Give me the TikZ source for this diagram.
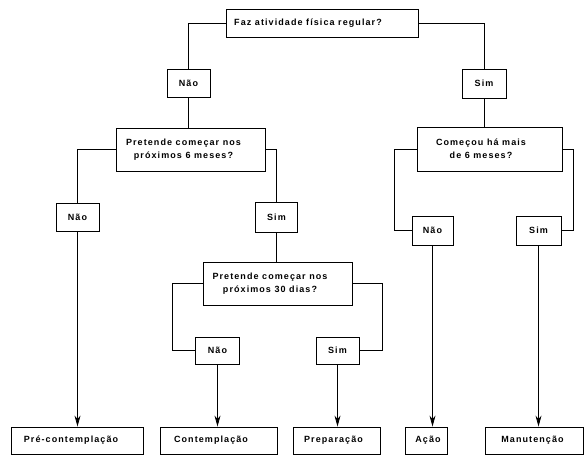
\documentclass[tikz,border=0pt]{standalone}
\usepackage{fontspec}
\setmainfont{Liberation Sans}[LetterSpace=12]
\usetikzlibrary{arrows.meta}
\newcommand{\padR}[1]{\hspace*{#1}}
\begin{document}
\begin{tikzpicture}[x=1pt,y=-1pt,
  box/.style={draw=black, line width=0.9pt, fill=white, inner sep=0pt, align=center,
    font=\fontsize{9}{13}\selectfont\bfseries},
  conn/.style={draw=black, line width=0.8pt},
  arr/.style={conn, -{Stealth[length=11pt,width=6pt]}}]
\useasboundingbox (0,0) rectangle (585,456);
% nodes
\node[box, minimum width=192pt, minimum height=28pt] (top) at (322,23) {Faz atividade física regular?\padR{28pt}};
\node[box, minimum width=43pt, minimum height=28pt] (naoA) at (188.5,83) {Não};
\node[box, minimum width=44pt, minimum height=29pt] (simA) at (484,83.5) {Sim};
\node[box, minimum width=149pt, minimum height=43pt] (p6) at (190.5,149.5) {Pretende começar nos\padR{14pt}\\próximos 6 meses?\padR{14pt}};
\node[box, minimum width=145pt, minimum height=44pt] (c6) at (489.5,149) {Começou há mais\padR{17pt}\\de 6 meses?\padR{17pt}};
\node[box, minimum width=43pt, minimum height=28pt] (naoB) at (77.5,217) {Não};
\node[box, minimum width=42pt, minimum height=30pt] (simB) at (276.5,217) {Sim};
\node[box, minimum width=41pt, minimum height=29pt] (naoC) at (432.5,230.5) {Não};
\node[box, minimum width=45pt, minimum height=29pt] (simC) at (538.5,230.5) {Sim};
\node[box, minimum width=149pt, minimum height=43pt] (p30) at (277.5,283.5) {Pretende começar nos\padR{15pt}\\próximos 30 dias?\padR{15pt}};
\node[box, minimum width=44pt, minimum height=27pt] (naoD) at (217.5,350.5) {Não};
\node[box, minimum width=43pt, minimum height=27pt] (simD) at (337.5,350.5) {Sim};
\node[box, minimum width=132pt, minimum height=27pt] (pre) at (77,440.5) {Pré-contemplação\padR{12pt}};
\node[box, minimum width=117pt, minimum height=27pt] (cont) at (218.5,440.5) {Contemplação\padR{15pt}};
\node[box, minimum width=87pt, minimum height=27pt] (prep) at (336.5,440.5) {Preparação\padR{6pt}};
\node[box, minimum width=42pt, minimum height=27pt] (acao) at (426,440.5) {\padR{4pt}Ação};
\node[box, minimum width=98pt, minimum height=27pt] (man) at (534,440.5) {Manutenção\padR{3pt}};
% connectors
\draw[conn] (top.west) -| (naoA.north);
\draw[conn] (top.east) -| (simA.north);
\draw[conn] (naoA.south) -- (naoA.south |- p6.north);
\draw[conn] (simA.south) -- (simA.south |- c6.north);
\draw[conn] (p6.west) -| (naoB.north);
\draw[conn] (p6.east) -| (simB.north);
\draw[conn] (simB.south) -- (simB.south |- p30.north);
\draw[conn] (p30.west) -- ++(-30,0) |- (naoD.west);
\draw[conn] (p30.east) -- ++(30,0) |- (simD.east);
\draw[conn] (c6.west) -- ++(-22,0) |- (naoC.west);
\draw[conn] (c6.east) -- ++(11,0) |- (simC.east);
\draw[arr] (naoB.south) -- (naoB.south |- pre.north);
\draw[arr] (naoD.south) -- (naoD.south |- cont.north);
\draw[arr] (simD.south) -- (simD.south |- prep.north);
\draw[arr] (naoC.south) -- (naoC.south |- acao.north);
\draw[arr] (simC.south) -- (simC.south |- man.north);
\end{tikzpicture}
\end{document}
